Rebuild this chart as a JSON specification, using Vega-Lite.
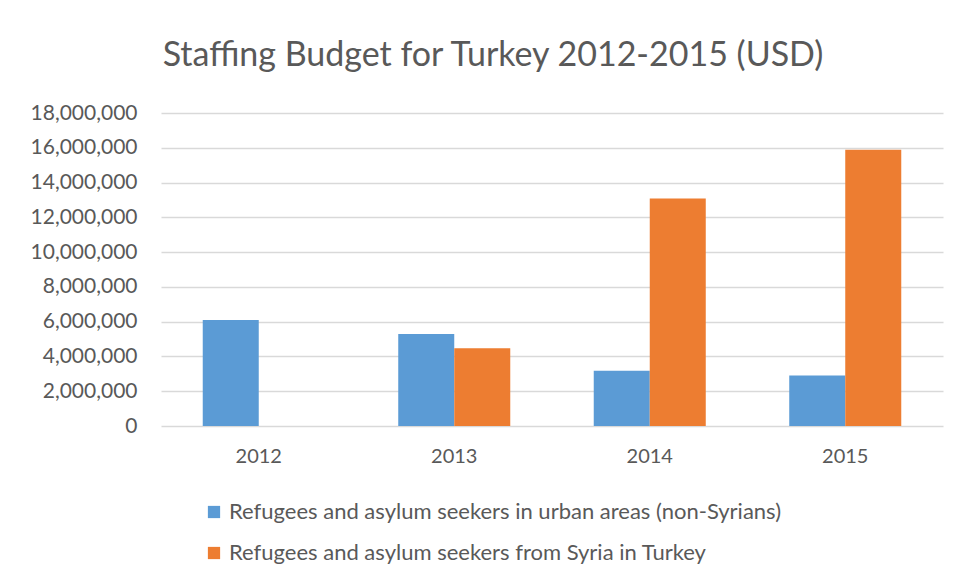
{
  "$schema": "https://vega.github.io/schema/vega-lite/v6.json",
  "autosize": {"type": "none"},
  "width": 782,
  "height": 313,
  "padding": {"left": 161, "top": 113, "right": 14, "bottom": 156},
  "background": "white",
  "title": {
    "text": "Staffing Budget for Turkey 2012-2015 (USD)",
    "font": "Lato",
    "fontSize": 34,
    "fontWeight": "normal",
    "color": "#595959",
    "offset": 29,
    "dx": -59
  },
  "data": {
    "values": [
      {"year": "2012", "series": "Refugees and asylum seekers in urban areas (non-Syrians)", "value": 6100000},
      {"year": "2013", "series": "Refugees and asylum seekers in urban areas (non-Syrians)", "value": 5290000},
      {"year": "2013", "series": "Refugees and asylum seekers from Syria in Turkey", "value": 4470000},
      {"year": "2014", "series": "Refugees and asylum seekers in urban areas (non-Syrians)", "value": 3180000},
      {"year": "2014", "series": "Refugees and asylum seekers from Syria in Turkey", "value": 13090000},
      {"year": "2015", "series": "Refugees and asylum seekers in urban areas (non-Syrians)", "value": 2910000},
      {"year": "2015", "series": "Refugees and asylum seekers from Syria in Turkey", "value": 15890000}
    ]
  },
  "mark": {"type": "bar"},
  "encoding": {
    "x": {
      "field": "year", "type": "nominal",
      "scale": {"paddingInner": 0.427, "paddingOuter": 0.2135},
      "axis": {"title": null, "labelAngle": 0, "ticks": false, "domain": false, "labelFont": "Lato", "labelFontSize": 20, "labelColor": "#595959", "labelPadding": 20, "grid": false}
    },
    "xOffset": {
      "field": "series", "type": "nominal",
      "sort": ["Refugees and asylum seekers in urban areas (non-Syrians)", "Refugees and asylum seekers from Syria in Turkey"],
      "scale": {"paddingInner": 0, "paddingOuter": 0}
    },
    "y": {
      "field": "value", "type": "quantitative",
      "scale": {"domain": [0, 18000000], "nice": false},
      "axis": {"title": null, "values": [0, 2000000, 4000000, 6000000, 8000000, 10000000, 12000000, 14000000, 16000000, 18000000], "format": ",d", "ticks": false, "domain": false, "labelFont": "Lato", "labelFontSize": 21, "labelColor": "#595959", "labelPadding": 24, "gridColor": "#D9D9D9", "gridWidth": 1.5}
    },
    "color": {
      "field": "series", "type": "nominal",
      "sort": ["Refugees and asylum seekers in urban areas (non-Syrians)", "Refugees and asylum seekers from Syria in Turkey"],
      "scale": {"range": ["#5B9BD5", "#ED7D31"]},
      "legend": {"title": null, "orient": "none", "legendX": 42, "legendY": 388, "direction": "vertical", "symbolType": "square", "symbolSize": 150, "symbolStrokeWidth": 0, "labelFont": "Lato", "labelFontSize": 22, "labelColor": "#595959", "labelLimit": 0, "rowPadding": 19, "labelOffset": 4}
    }
  },
  "config": {"view": {"stroke": null}}
}
